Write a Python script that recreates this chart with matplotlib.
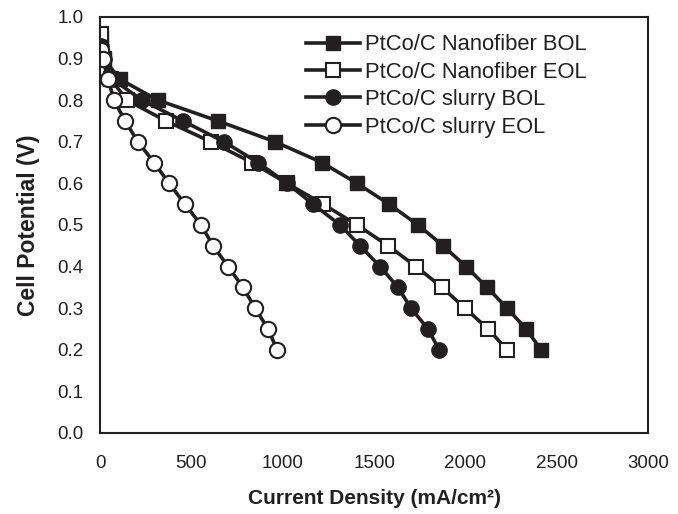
import matplotlib
matplotlib.use("Agg")
import matplotlib.pyplot as plt
import numpy as np

plt.rcParams['font.family'] = ['Liberation Sans', 'DejaVu Sans']

# Data
v_nf = [0.95, 0.90, 0.85, 0.80, 0.75, 0.70, 0.65, 0.60, 0.55, 0.50, 0.45, 0.40, 0.35, 0.30, 0.25, 0.20]
nf_bol_x = [8, 20, 110, 317, 646, 958, 1215, 1407, 1582, 1741, 1878, 2003, 2119, 2228, 2332, 2414]
nf_eol_y = [0.96, 0.90, 0.85, 0.80, 0.75, 0.70, 0.65, 0.60, 0.55, 0.50, 0.45, 0.40, 0.35, 0.30, 0.25, 0.20]
nf_eol_x = [5, 20, 60, 148, 361, 607, 832, 1024, 1221, 1407, 1577, 1730, 1872, 1998, 2124, 2228]
sl_bol_y = [0.93, 0.90, 0.85, 0.80, 0.75, 0.70, 0.65, 0.60, 0.55, 0.50, 0.45, 0.40, 0.35, 0.30, 0.25, 0.20]
sl_bol_x = [5, 20, 70, 230, 454, 679, 865, 1024, 1166, 1314, 1423, 1533, 1631, 1702, 1795, 1856]
sl_eol_y = [0.92, 0.90, 0.85, 0.80, 0.75, 0.70, 0.65, 0.60, 0.55, 0.50, 0.45, 0.40, 0.35, 0.30, 0.25, 0.20]
sl_eol_x = [5, 15, 44, 77, 137, 208, 296, 378, 465, 553, 619, 701, 783, 849, 920, 969]

labels = ["PtCo/C Nanofiber BOL", "PtCo/C Nanofiber EOL", "PtCo/C slurry BOL", "PtCo/C slurry EOL"]
x_ticks = [0, 500, 1000, 1500, 2000, 2500, 3000]
y_ticks = [0.0, 0.1, 0.2, 0.3, 0.4, 0.5, 0.6, 0.7, 0.8, 0.9, 1.0]

fig = plt.figure(figsize=(6.78, 5.14), dpi=100)
ax = fig.add_axes([0.1475, 0.1576, 0.8085, 0.8094])

c = '#231f20'
lw = 2.6
ms = 10
ax.plot(nf_bol_x, v_nf, '-s', color=c, lw=lw, ms=ms, mfc=c, mec=c, label=labels[0])
ax.plot(nf_eol_x, nf_eol_y, '-s', color=c, lw=lw, ms=ms, mfc='white', mec=c, mew=1.5, label=labels[1])
ax.plot(sl_bol_x, sl_bol_y, '-o', color=c, lw=lw, ms=ms + 1, mfc=c, mec=c, label=labels[2])
ax.plot(sl_eol_x, sl_eol_y, '-o', color=c, lw=lw, ms=ms + 1, mfc='white', mec=c, mew=1.5, label=labels[3])
# filled marker at 0.6 visible in reference
i6 = nf_eol_y.index(0.60)
ax.plot([nf_eol_x[i6]], [nf_eol_y[i6]], 's', ms=ms, mfc=c, mec=c)

ax.set_xlim(0, 3000)
ax.set_ylim(0, 1.0)
ax.set_xticks(x_ticks)
ax.set_yticks(y_ticks)
ax.set_yticklabels([f"{v:.1f}" for v in y_ticks])
ax.tick_params(length=0, labelsize=13.5, pad=12, colors=c)
ax.tick_params(axis='x', pad=16)
for s in ax.spines.values():
    s.set_linewidth(1.5)
    s.set_color(c)

ax.set_xlabel("Current Density (mA/cm²)", fontsize=15, fontweight='bold', labelpad=12, color=c)
ax.set_ylabel("Cell Potential (V)", fontsize=16.5, fontweight='bold', labelpad=12, color=c)

leg = ax.legend(loc='upper left', bbox_to_anchor=(0.375, 0.958), frameon=False, fontsize=15.8,
                handlelength=2.5, handletextpad=0.22, labelspacing=0.29, borderaxespad=0, borderpad=0)
for t in leg.get_texts():
    t.set_color(c)

fig.savefig("out.png", dpi=100)
